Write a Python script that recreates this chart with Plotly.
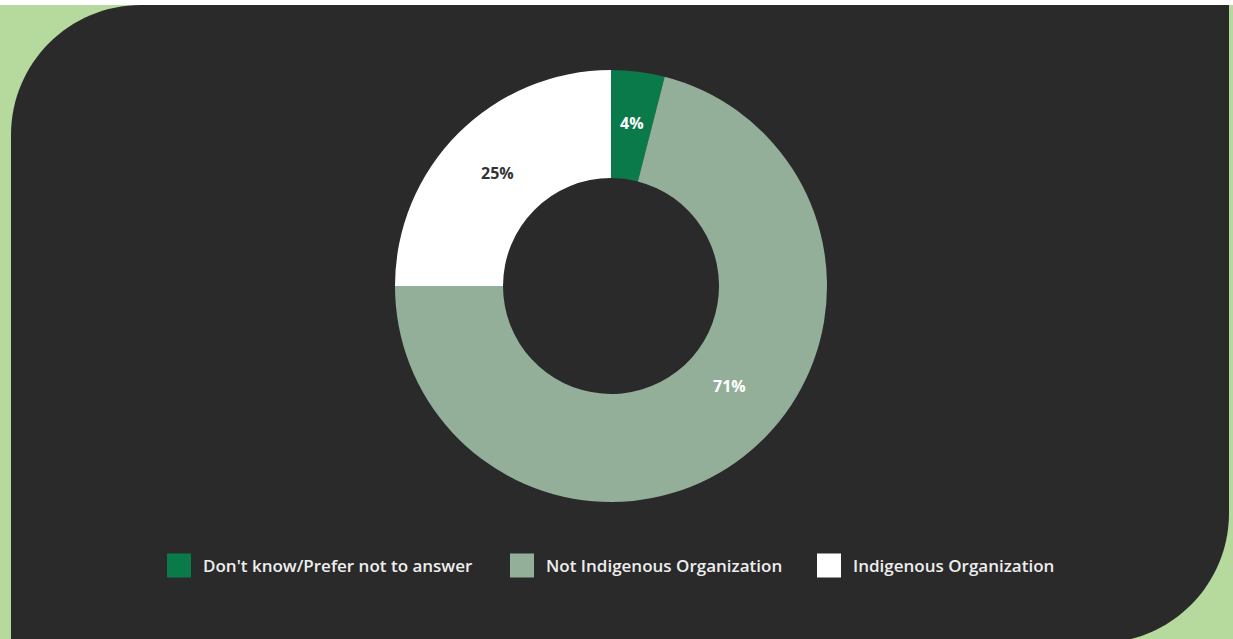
import math
import plotly.graph_objects as go

W, H = 1233, 639

# Survey answer shares (percent)
categories = ["Don't know/Prefer not to answer", "Not Indigenous Organization", "Indigenous Organization"]
shares = [4, 71, 25]
slice_colors = ["#0b7a4b", "#93af9a", "#ffffff"]
label_colors = ["#ffffff", "#ffffff", "#333333"]

BG_GREEN = "#b6da9e"
PANEL = "#2a2a2a"


def fx(px):
    return px / W


def fy(py):
    return 1 - py / H


def panel_path(left, top, right, bottom, r):
    """Panel with rounded top-left and bottom-right corners (pixel input, paper output)."""
    k = 0.5523 * r
    pts = [
        ("M", [(left, top + r)]),
        ("C", [(left, top + r - k), (left + r - k, top), (left + r, top)]),
        ("L", [(right, top)]),
        ("L", [(right, bottom - r)]),
        ("C", [(right, bottom - r + k), (right - r + k, bottom), (right - r, bottom)]),
        ("L", [(left, bottom)]),
    ]
    out = []
    for cmd, coords in pts:
        out.append(cmd + " ".join(f"{fx(x):.6f},{fy(y):.6f}" for x, y in coords))
    return " ".join(out) + " Z"


fig = go.Figure()

# Donut: centre (611, 286), outer radius 216 px
cx, cy, R = 611, 286, 216
fig.add_trace(go.Pie(
    labels=categories,
    values=shares,
    sort=False,
    direction="clockwise",
    rotation=0,
    hole=0.5,
    marker=dict(colors=slice_colors, line=dict(width=0)),
    textinfo="none",
    hoverinfo="label+percent",
    showlegend=False,
    domain=dict(x=[fx(cx - R), fx(cx + R)], y=[fy(cy + R), fy(cy - R)]),
))

shapes = [
    # white strip along the top edge
    dict(type="rect", xref="paper", yref="paper", x0=0, x1=1, y0=fy(5), y1=1,
         fillcolor="#ffffff", line=dict(width=0), layer="below"),
    # dark rounded panel
    dict(type="path", xref="paper", yref="paper", path=panel_path(11, 5, 1229, 643, 130),
         fillcolor=PANEL, line=dict(width=0), layer="below"),
]
annotations = []

# Value labels inside the ring, placed along each slice's sweep
label_sweep_pos = [0.5, 0.453, 0.5]
label_radius = [164, 155, 160]
total = sum(shares)
start = 0.0
for v, c, pos, rr in zip(shares, label_colors, label_sweep_pos, label_radius):
    a0 = start / total * 360
    a1 = (start + v) / total * 360
    ang = math.radians(a0 + (a1 - a0) * pos)
    px = cx + rr * math.sin(ang)
    py = cy - rr * math.cos(ang)
    annotations.append(dict(xref="paper", yref="paper", x=fx(px), y=fy(py),
                            xanchor="center", yanchor="middle", showarrow=False,
                            text=f"{v}%",
                            font=dict(family="Open Sans", size=16, color=c, weight=700)))
    start += v

# Custom legend row: swatch + label
legend_swatch_x = [167, 510, 817]
for x0, name, col in zip(legend_swatch_x, categories, slice_colors):
    shapes.append(dict(type="rect", xref="paper", yref="paper",
                       x0=fx(x0), x1=fx(x0 + 24), y0=fy(577.5), y1=fy(553.5),
                       fillcolor=col, line=dict(width=0)))
    annotations.append(dict(xref="paper", yref="paper", x=fx(x0 + 34), y=fy(565.5),
                            xanchor="left", yanchor="middle", showarrow=False,
                            text=name,
                            font=dict(family="Open Sans", size=17, color="#eeeeee", weight=600)))

fig.update_layout(
    width=W, height=H,
    margin=dict(l=0, r=0, t=0, b=0),
    paper_bgcolor=BG_GREEN,
    plot_bgcolor=BG_GREEN,
    shapes=shapes,
    annotations=annotations,
    showlegend=False,
)

fig.write_html("out.html")
